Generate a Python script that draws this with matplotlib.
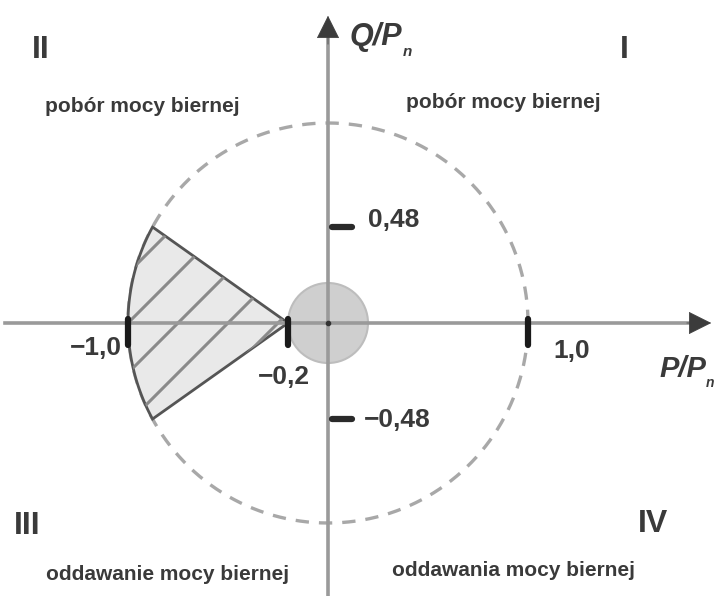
import numpy as np
import matplotlib
matplotlib.use("Agg")
import matplotlib.pyplot as plt
from matplotlib.patches import Circle, Polygon

# ---- data ----
circle_radius = 1.0
dead_zone_radius = 0.2
q_limit = 0.48
p_min_region = -0.2
p_ticks = [-1.0, -0.2, 1.0]
p_tick_labels = ["\u22121,0", "\u22120,2", "1,0"]
q_ticks = [0.48, -0.48]
q_tick_labels = ["0,48", "\u22120,48"]
quadrant_labels = ["I", "II", "III", "IV"]
region_texts = ["pobór mocy biernej", "pobór mocy biernej",
                "oddawanie mocy biernej", "oddawania mocy biernej"]
axis_labels = ["P/P", "Q/P"]
axis_sub = "n"

plt.rcParams['font.family'] = ['Liberation Sans', 'DejaVu Sans']

fig = plt.figure(figsize=(7.22, 5.96), dpi=100)
ax = fig.add_axes([0, 0, 1, 1])
ax.set_xlim(-1.64, 1.97)
ax.set_ylim(-1.365, 1.615)
ax.set_aspect('equal')
ax.axis('off')

txt_col = '#3a3a3a'
axis_col = '#9a9a9a'

# dashed unit circle
th = np.linspace(0, 2*np.pi, 721)
ax.plot(circle_radius*np.cos(th), circle_radius*np.sin(th), color='#a8a8a8',
        lw=2.4, ls=(0, (4, 3)), zorder=2)

# hatched operating region
a1 = np.pi - np.arcsin(q_limit / circle_radius)
a2 = np.pi + np.arcsin(q_limit / circle_radius)
arc = np.linspace(a1, a2, 100)
verts = [(p_min_region, 0)] + list(zip(circle_radius*np.cos(arc), circle_radius*np.sin(arc)))
poly = Polygon(verts, closed=True, facecolor='#e9e9e9', edgecolor='#555555', lw=2.0, zorder=3)
ax.add_patch(poly)
clip = Polygon(verts, closed=True, transform=ax.transData)
for c in np.arange(-1.25, 0.0, 0.25):
    xs = np.array([c - 1.0, c + 1.0])
    ln, = ax.plot(xs, xs - c, color='#8a8a8a', lw=2.2, zorder=3)
    ln.set_clip_path(clip)

# dead zone around origin
ax.add_patch(Circle((0, 0), dead_zone_radius, facecolor='#cfcfcf', edgecolor='#bdbdbd',
                    lw=1.5, zorder=3))

# axes with arrows
ax.plot([-1.615, 1.85], [0, 0], color=axis_col, lw=2.6, zorder=4)
ax.plot([0, 0], [-1.365, 1.42], color=axis_col, lw=2.6, zorder=4)
ax.annotate('', xy=(1.93, 0), xytext=(1.78, 0),
            arrowprops=dict(arrowstyle='-|>', mutation_scale=38, color='#3c3c3c', lw=0.5),
            zorder=5)
ax.annotate('', xy=(0, 1.55), xytext=(0, 1.38),
            arrowprops=dict(arrowstyle='-|>', mutation_scale=38, color='#3c3c3c', lw=0.5),
            zorder=5)
ax.plot([0], [0], 'o', color='#333333', ms=3, zorder=6)

# ticks
for p in p_ticks:
    ax.plot([p, p], [0.02, -0.11], color='#1a1a1a', lw=4.5, solid_capstyle='round', zorder=6)
for q in q_ticks:
    ax.plot([0.02, 0.12], [q, q], color='#2a2a2a', lw=4.5, solid_capstyle='round', zorder=6)

num_fs = 19
ax.text(-1.16, -0.125, p_tick_labels[0], fontsize=num_fs, fontweight='bold', color=txt_col,
        ha='center', va='center', zorder=7)
ax.text(-0.22, -0.27, p_tick_labels[1], fontsize=num_fs, fontweight='bold', color=txt_col,
        ha='center', va='center', zorder=7)
ax.text(1.22, -0.14, p_tick_labels[2], fontsize=num_fs, fontweight='bold', color=txt_col,
        ha='center', va='center', zorder=7)
ax.text(0.20, 0.515, q_tick_labels[0], fontsize=num_fs, fontweight='bold', color=txt_col,
        ha='left', va='center', zorder=7)
ax.text(0.18, -0.485, q_tick_labels[1], fontsize=num_fs, fontweight='bold', color=txt_col,
        ha='left', va='center', zorder=7)

# axis labels
t_q = ax.text(0.11, 1.39, axis_labels[1], fontsize=22, fontweight='bold', style='italic',
              color=txt_col, ha='left', va='baseline', zorder=7)
ax.annotate(axis_sub, xy=(1, 0), xycoords=t_q, xytext=(0, -3), textcoords='offset points',
            fontsize=11, fontweight='bold', style='italic', color=txt_col, ha='left', va='baseline')
t_p = ax.text(1.655, -0.27, axis_labels[0], fontsize=21, fontweight='bold', style='italic',
              color=txt_col, ha='left', va='baseline', zorder=7)
ax.annotate(axis_sub, xy=(1, 0), xycoords=t_p, xytext=(0, -3), textcoords='offset points',
            fontsize=10, fontweight='bold', style='italic', color=txt_col, ha='left', va='baseline')

# quadrant numerals
q_fs = 23
ax.text(1.48, 1.365, quadrant_labels[0], fontsize=q_fs, fontweight='bold', color=txt_col,
        ha='center', va='center')
ax.text(-1.435, 1.365, quadrant_labels[1], fontsize=q_fs, fontweight='bold', color=txt_col,
        ha='center', va='center')
ax.text(-1.505, -1.015, quadrant_labels[2], fontsize=q_fs, fontweight='bold', color=txt_col,
        ha='center', va='center')
ax.text(1.625, -1.005, quadrant_labels[3], fontsize=q_fs, fontweight='bold', color=txt_col,
        ha='center', va='center')

# region texts
r_fs = 15
ax.text(-0.93, 1.085, region_texts[0], fontsize=r_fs, fontweight='bold', color=txt_col,
        ha='center', va='center')
ax.text(0.875, 1.105, region_texts[1], fontsize=r_fs, fontweight='bold', color=txt_col,
        ha='center', va='center')
ax.text(-0.80, -1.255, region_texts[2], fontsize=r_fs, fontweight='bold', color=txt_col,
        ha='center', va='center')
ax.text(0.925, -1.24, region_texts[3], fontsize=r_fs, fontweight='bold', color=txt_col,
        ha='center', va='center')

fig.savefig('out.png', dpi=100)
